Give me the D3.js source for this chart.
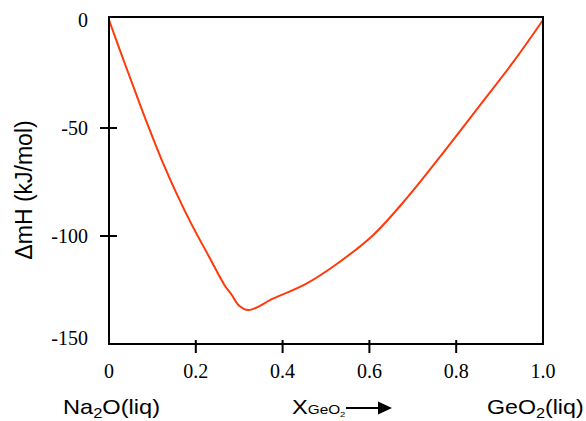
<!DOCTYPE html>
<html>
<head>
<meta charset="utf-8">
<script src="https://cdn.jsdelivr.net/npm/d3@7"></script>
<style>
  body { margin: 0; background: #fff; }
  .tick-label { font-family: "Liberation Serif", "Times New Roman", serif; font-size: 20px; fill: #000; }
  .axis-title { font-family: "Liberation Sans", Arial, sans-serif; font-size: 20px; fill: #000; }
</style>
</head>
<body>
<svg id="chart" width="586" height="421"></svg>
<script>
// mole fraction of GeO2 and enthalpy of mixing (kJ/mol)
var xGeO2 = [0, 0.037, 0.0675, 0.094, 0.125, 0.156, 0.19, 0.229, 0.267, 0.283, 0.298, 0.321,
             0.379, 0.456, 0.532, 0.609, 0.686, 0.778, 0.855, 0.932, 1.0];
var dHmix = [0, -20.5, -37, -51, -66.5, -80.5, -94.5, -109, -123, -127.3, -131.9, -134.3,
             -128.9, -121.9, -111.9, -99.5, -82.5, -59.4, -39.4, -19.3, 0];
var xTicks = [0, 0.2, 0.4, 0.6, 0.8, 1.0];
var xTickLabels = ["0", "0.2", "0.4", "0.6", "0.8", "1.0"];
var yTicks = [0, -50, -100, -150];
var yTickLabels = ["0", "-50", "-100", "-150"];

var svg = d3.select("#chart");
var plotL = 109, plotR = 543, plotT = 17, plotB = 344;

var x = d3.scaleLinear().domain([0, 1]).range([plotL, plotR]);
var y = d3.scaleLinear().domain([-150, 0]).range([plotB, 20]);

// curve
var line = d3.line()
    .x(function(d, i) { return x(xGeO2[i]); })
    .y(function(d, i) { return y(dHmix[i]); })
    .curve(d3.curveCatmullRom.alpha(0.5));

svg.append("path")
    .datum(dHmix)
    .attr("d", line)
    .attr("fill", "none")
    .attr("stroke", "#ff3a0a")
    .attr("stroke-width", 2);

// frame
svg.append("rect")
    .attr("x", plotL).attr("y", plotT)
    .attr("width", plotR - plotL).attr("height", plotB - plotT)
    .attr("fill", "none").attr("stroke", "#000").attr("stroke-width", 2);

// x ticks cross the bottom line
svg.selectAll(".xtick").data(xTicks.slice(1, -1))
    .enter().append("line")
    .attr("x1", function(d) { return x(d); })
    .attr("x2", function(d) { return x(d); })
    .attr("y1", plotB - 4).attr("y2", plotB + 9)
    .attr("stroke", "#000").attr("stroke-width", 2);

svg.selectAll(".xlab").data(xTicks)
    .enter().append("text")
    .attr("class", "tick-label")
    .attr("x", function(d) { return x(d); })
    .attr("y", 378)
    .attr("text-anchor", "middle")
    .text(function(d, i) { return xTickLabels[i]; });

// y ticks cross the left line
svg.selectAll(".ytick").data(yTicks.slice(1, -1))
    .enter().append("line")
    .attr("x1", plotL - 9).attr("x2", plotL + 8)
    .attr("y1", function(d) { return y(d); })
    .attr("y2", function(d) { return y(d); })
    .attr("stroke", "#000").attr("stroke-width", 2);

svg.selectAll(".ylab").data(yTicks)
    .enter().append("text")
    .attr("class", "tick-label")
    .attr("x", 88)
    .attr("y", function(d) { return Math.min(y(d), 338) + 7; })
    .attr("text-anchor", "end")
    .text(function(d, i) { return yTickLabels[i]; });

// y title
svg.append("text")
    .attr("class", "axis-title")
    .style("font-size", "23px")
    .attr("transform", "translate(32,190) rotate(-90)")
    .attr("text-anchor", "middle")
    .text("\u0394mH (kJ/mol)");

// bottom labels (slightly wide lettering in the original)
var na = svg.append("text").attr("class", "axis-title")
    .attr("transform", "translate(63,414) scale(1.18,1)");
na.append("tspan").text("Na");
na.append("tspan").style("font-size", "14px").attr("dy", 4).text("2");
na.append("tspan").attr("dy", -4).text("O(liq)");

var ge = svg.append("text").attr("class", "axis-title")
    .attr("transform", "translate(487,414) scale(1.16,1)");
ge.append("tspan").text("GeO");
ge.append("tspan").style("font-size", "14px").attr("dy", 4).text("2");
ge.append("tspan").attr("dy", -4).text("(liq)");

var xl = svg.append("text").attr("class", "axis-title")
    .attr("transform", "translate(292,414) scale(1.18,1)");
xl.append("tspan").text("X");
xl.append("tspan").style("font-size", "13px").text("GeO");
xl.append("tspan").style("font-size", "8px").attr("dy", 3).text("2");

svg.append("line")
    .attr("x1", 346).attr("x2", 380).attr("y1", 408).attr("y2", 408)
    .attr("stroke", "#000").attr("stroke-width", 2);
svg.append("path")
    .attr("d", "M378,401.5L392,408L378,414.5Z")
    .attr("fill", "#000");
</script>
</body>
</html>
